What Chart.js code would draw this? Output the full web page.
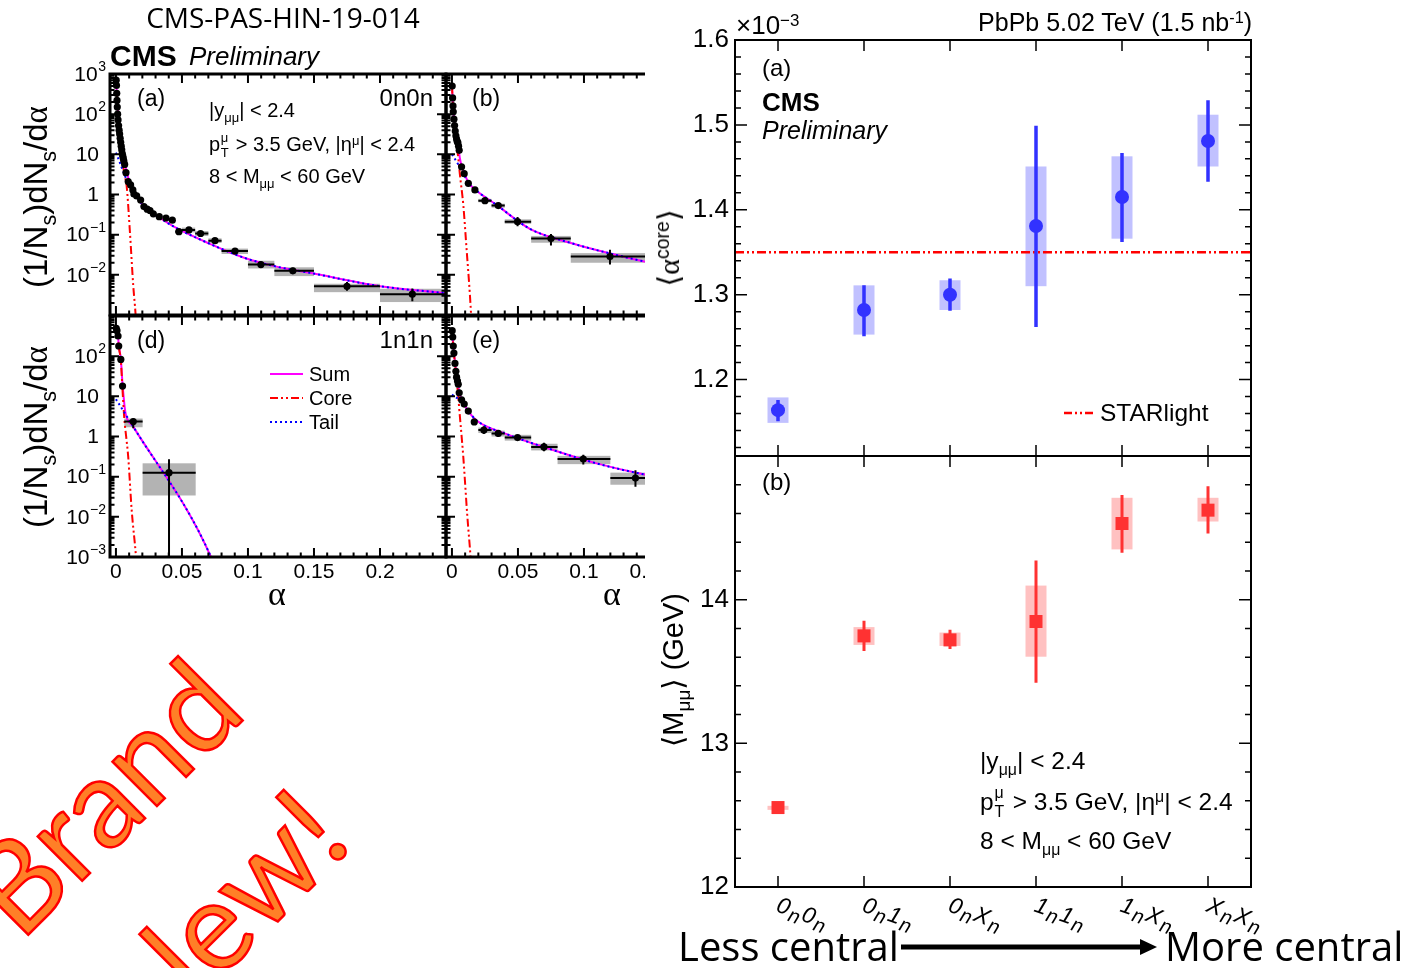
<!DOCTYPE html>
<html>
<head>
<meta charset="utf-8">
<title>CMS-PAS-HIN-19-014</title>
<script src="https://cdn.jsdelivr.net/npm/chart.js@4.4.1/dist/chart.umd.min.js"></script>
<style>
  body { margin:0; width:1422px; height:968px; overflow:hidden; position:relative; background:#fff;
         font-family:"Liberation Sans", Arial, sans-serif; color:#000; }
  canvas { position:absolute; }
  .t { position:absolute; white-space:nowrap; line-height:1; }
  .r { transform:translateX(-100%); }
  .c { transform:translateX(-50%); }
  .rot { transform:translate(-50%,-50%) rotate(-90deg); }
  sup { font-size:.65em; vertical-align:.5em; line-height:0; }
  sub { font-size:.65em; vertical-align:-.4em; line-height:0; }
  .ss { display:inline-block; position:relative; width:.5em; height:1px; }
  .ss i { position:absolute; left:.05em; font-style:normal; font-size:.65em; line-height:1; }
  .ss .u { bottom:.54em; }
  .ss .d { bottom:-.62em; }
  .sym { font-family:"Liberation Serif", serif; }
  .ang { font-family:"DejaVu Sans", sans-serif; }
  #clipB { position:absolute; left:0; top:0; width:645px; height:620px; overflow:hidden; }
  #brand { position:absolute; left:160px; top:854px; transform:translate(-50%,-50%) rotate(-45deg);
           font-family:Lato, "Open Sans", sans-serif; font-size:124px; line-height:167px; text-align:center;
           color:#ff7f27; -webkit-text-stroke:2.5px #ff0000; white-space:nowrap; }
</style>
</head>
<body>

<canvas id="cA" width="460" height="300" style="left:0;top:40px"></canvas>
<canvas id="cD" width="460" height="290" style="left:0;top:300px"></canvas>
<div id="clipB">
  <canvas id="cB" width="360" height="300" style="left:436px;top:40px"></canvas>
  <canvas id="cE" width="360" height="290" style="left:436px;top:300px"></canvas>
</div>
<canvas id="cRT" width="650" height="470" style="left:640px;top:0"></canvas>
<canvas id="cRB" width="650" height="520" style="left:640px;top:440px"></canvas>

<!-- left block texts -->
<div class="t c" style="left:283px;top:3px;font-family:'Open Sans',sans-serif;font-size:28px">CMS-PAS-HIN-19-014</div>
<div class="t" style="left:110px;top:41px;font-size:30px;font-weight:bold">CMS</div>
<div class="t" style="left:189px;top:43px;font-size:26px;font-style:italic">Preliminary</div>

<div class="t" style="left:137px;top:87px;font-size:23px">(a)</div>
<div class="t r" style="left:433px;top:86px;font-size:24px">0n0n</div>
<div class="t" style="left:209px;top:100px;font-size:20px">|y<sub>μμ</sub>| &lt; 2.4</div>
<div class="t" style="left:209px;top:134px;font-size:20px">p<span class="ss"><i class="u">μ</i><i class="d">T</i></span> &gt; 3.5 GeV, |η<sup>μ</sup>| &lt; 2.4</div>
<div class="t" style="left:209px;top:166px;font-size:20px">8 &lt; M<sub>μμ</sub> &lt; 60 GeV</div>
<div class="t" style="left:472px;top:87px;font-size:23px">(b)</div>
<div class="t" style="left:137px;top:329px;font-size:23px">(d)</div>
<div class="t r" style="left:433px;top:328px;font-size:24px">1n1n</div>
<div class="t" style="left:472px;top:329px;font-size:23px">(e)</div>

<svg style="position:absolute;left:268px;top:364px" width="40" height="70">
  <line x1="2" y1="10" x2="35" y2="10" stroke="#ff00ff" stroke-width="2"/>
  <line x1="2" y1="34" x2="35" y2="34" stroke="#ff0000" stroke-width="2" stroke-dasharray="8 3 2 3 2 3"/>
  <line x1="2" y1="58" x2="35" y2="58" stroke="#0000ff" stroke-width="2" stroke-dasharray="2 3"/>
</svg>
<div class="t" style="left:309px;top:364px;font-size:20px">Sum</div>
<div class="t" style="left:309px;top:388px;font-size:20px">Core</div>
<div class="t" style="left:309px;top:412px;font-size:20px">Tail</div>

<div class="t rot" style="left:36px;top:197px;font-size:33px">(1/N<sub>s</sub>)dN<sub>s</sub>/d<span class="sym">α</span></div>
<div class="t rot" style="left:36px;top:437px;font-size:33px">(1/N<sub>s</sub>)dN<sub>s</sub>/d<span class="sym">α</span></div>
<div class="t c sym" style="left:277px;top:577px;font-size:34px">α</div>
<div class="t c sym" style="left:612px;top:577px;font-size:34px">α</div>

<!-- right block texts -->
<div class="t" style="left:736px;top:12px;font-size:26px">×10<sup>−3</sup></div>
<div class="t r" style="left:1252px;top:10px;font-size:25px">PbPb 5.02 TeV (1.5 nb<sup>-1</sup>)</div>
<div class="t" style="left:762px;top:56px;font-size:24px">(a)</div>
<div class="t" style="left:762px;top:89px;font-size:26px;font-weight:bold">CMS</div>
<div class="t" style="left:762px;top:118px;font-size:25px;font-style:italic">Preliminary</div>
<svg style="position:absolute;left:1062px;top:405px" width="34" height="16">
  <line x1="2" y1="8" x2="31" y2="8" stroke="#ff0000" stroke-width="2.5" stroke-dasharray="8 3 2 3 2 3"/>
</svg>
<div class="t" style="left:1100px;top:401px;font-size:24.5px">STARlight</div>
<div class="t" style="left:762px;top:470px;font-size:24px">(b)</div>
<div class="t" style="left:980px;top:749px;font-size:24.5px">|y<sub>μμ</sub>| &lt; 2.4</div>
<div class="t" style="left:980px;top:790px;font-size:24.5px">p<span class="ss"><i class="u">μ</i><i class="d">T</i></span> &gt; 3.5 GeV, |η<sup>μ</sup>| &lt; 2.4</div>
<div class="t" style="left:980px;top:829px;font-size:24.5px">8 &lt; M<sub>μμ</sub> &lt; 60 GeV</div>
<div class="t rot" style="left:669px;top:248px;font-size:30px"><span class="ang">⟨</span><span class="sym">α</span><sup>core</sup><span class="ang">⟩</span></div>
<div class="t rot" style="left:673px;top:670px;font-size:29px"><span class="ang">⟨</span>M<sub>μμ</sub><span class="ang">⟩</span> (GeV)</div>

<div class="t" style="left:678px;top:926px;font-family:'Open Sans',sans-serif;font-size:40px">Less central</div>
<div class="t" style="left:1165px;top:926px;font-family:'Open Sans',sans-serif;font-size:40px">More central</div>
<svg style="position:absolute;left:895px;top:935px" width="270" height="26">
  <line x1="6" y1="12" x2="248" y2="12" stroke="#000" stroke-width="5"/>
  <polygon points="245,4 262,12 245,20" fill="#000"/>
</svg>

<div id="brand">Brand<br>New!</div>

<script>
// ---------------- data: right panels (per neutron class) ----------------
const classes     = ['0n0n', '0n1n', '0nXn', '1n1n', '1nXn', 'XnXn'];
const alphaMean   = [1.164, 1.282, 1.300, 1.381, 1.415, 1.481];   // x 1e-3
const alphaStatLo = [1.151, 1.251, 1.281, 1.262, 1.362, 1.433];
const alphaStatHi = [1.176, 1.311, 1.319, 1.499, 1.467, 1.529];
const alphaSysLo  = [1.149, 1.253, 1.282, 1.310, 1.366, 1.451];
const alphaSysHi  = [1.179, 1.311, 1.317, 1.451, 1.463, 1.512];
const starlightAlpha = 1.35;
const massMean    = [12.553, 13.748, 13.720, 13.848, 14.530, 14.623]; // GeV
const massStatLo  = [12.545, 13.643, 13.657, 13.421, 14.327, 14.460];
const massStatHi  = [12.561, 13.853, 13.790, 14.273, 14.728, 14.789];
const massSysLo   = [12.537, 13.685, 13.678, 13.603, 14.350, 14.544];
const massSysHi   = [12.565, 13.809, 13.771, 14.098, 14.709, 14.709];

// ---------------- data: alpha spectra ----------------
// dense points [alpha, dN/dalpha]
// binned rows [alpha, value, binLo, binHi, statLo, statHi, sysLo, sysHi]
// fit curves [alpha, value]
const aDense = [[0.0002,700],[0.0004,520],[0.0006,330],[0.0008,220],[0.001,150],[0.0013,100],[0.0016,72],[0.002,52],
  [0.0024,40],[0.0028,32],[0.0032,25],[0.0036,20],[0.004,16],[0.0044,13],[0.0048,10.5],[0.0052,9],[0.0056,7.8],
  [0.006,6.8],[0.0066,5.6],[0.0076,3.5],[0.0093,2.1],[0.0111,1.73],[0.0128,1.3],[0.0136,1.03],[0.0157,0.92],
  [0.0187,0.73],[0.0212,0.5],[0.0237,0.43],[0.0258,0.4],[0.0283,0.33],[0.0328,0.28],[0.0379,0.26],[0.0427,0.23]];
const aBinned = [
  [0.0477,0.119,0.045,0.05,0.108,0.131,0.106,0.133],
  [0.0553,0.131,0.05,0.06,0.120,0.143,0.114,0.150],
  [0.0641,0.107,0.06,0.07,0.098,0.117,0.093,0.123],
  [0.075,0.071,0.07,0.08,0.064,0.079,0.062,0.081],
  [0.0902,0.039,0.08,0.10,0.035,0.043,0.033,0.045],
  [0.1098,0.018,0.10,0.12,0.015,0.0215,0.0144,0.0224],
  [0.134,0.0126,0.12,0.15,0.0105,0.015,0.0093,0.0154],
  [0.175,0.0052,0.15,0.20,0.0040,0.0066,0.0037,0.0060],
  [0.2245,0.0033,0.20,0.25,0.0022,0.0046,0.0021,0.0045]];
const aSum  = [[0,770],[0.001,210],[0.002,70],[0.003,34],[0.004,19],[0.005,11],[0.006,7.2],[0.007,5],[0.0081,3.9],
  [0.0093,2.6],[0.0106,1.9],[0.012,1.42],[0.0157,0.92],[0.0207,0.52],[0.0333,0.26],[0.046,0.145],[0.0712,0.059],
  [0.0965,0.027],[0.1217,0.016],[0.147,0.0112],[0.2,0.0052],[0.25,0.0035]];
const aCore = [[0,760],[0.001,200],[0.002,62],[0.003,27],[0.004,13],[0.005,6.5],[0.006,3.8],[0.007,2.6],[0.0081,1.66],
  [0.0106,0.115],[0.0131,0.0054],[0.0149,0.001],[0.016,0.0002]];
const aTail = [[0,11],[0.003,6.2],[0.006,3.4],[0.009,2.0],[0.012,1.4],[0.0157,0.92],[0.0207,0.52],[0.0333,0.26],
  [0.046,0.145],[0.0712,0.059],[0.0965,0.027],[0.1217,0.016],[0.147,0.0112],[0.2,0.0052],[0.25,0.0035]];

const bDense = [[0.0002,500],[0.0005,254],[0.0008,160],[0.001,115],[0.0015,75],[0.002,52],[0.0025,38],[0.003,29],
  [0.0035,24],[0.004,21],[0.0045,19.5],[0.005,16],[0.0055,12.6],[0.0073,4.9],[0.0093,3.3],[0.0124,1.9],[0.0174,1.3]];
const bBinned = [
  [0.025,0.70,0.02,0.03,0.62,0.80,0.64,0.78],
  [0.0351,0.53,0.03,0.04,0.46,0.60,0.47,0.59],
  [0.0497,0.21,0.04,0.06,0.162,0.277,0.186,0.241],
  [0.075,0.080,0.06,0.09,0.054,0.104,0.063,0.093],
  [0.1197,0.0285,0.09,0.15,0.018,0.042,0.020,0.0347]];
const bSum  = [[0,520],[0.001,130],[0.002,56],[0.003,32],[0.004,20],[0.005,14],[0.006,8],[0.0073,5.2],[0.0093,3.4],
  [0.0124,2.0],[0.0162,1.45],[0.0338,0.55],[0.059,0.14],[0.0894,0.063],[0.146,0.0213],[0.16,0.017]];
const bCore = [[0,510],[0.001,120],[0.002,48],[0.003,24],[0.004,13],[0.005,7],[0.006,3.2],[0.0086,0.55],
  [0.0111,0.043],[0.0136,0.0032],[0.0145,0.001],[0.016,0.0001]];
const bTail = [[0,10],[0.005,5.5],[0.0093,3.0],[0.0124,2.0],[0.0162,1.45],[0.0338,0.55],[0.059,0.14],[0.0894,0.063],
  [0.146,0.0213],[0.16,0.017]];

const dDense = [[0.00025,490],[0.0008,430],[0.0016,318],[0.0021,179],[0.0037,83],[0.005,18]];
const dBinned = [
  [0.0131,2.35,0.0063,0.0202,1.6,2.8,1.7,2.8],
  [0.0402,0.126,0.0202,0.0604,0.00001,0.27,0.034,0.215]];
const dSum  = [[0,560],[0.001,400],[0.0016,318],[0.0021,190],[0.0037,85],[0.005,20],[0.0058,10],[0.0066,5.4],
  [0.0076,3.4],[0.0131,1.76],[0.072,0.001],[0.08,0.00018]];
const dCore = [[0,550],[0.001,390],[0.0016,310],[0.0021,180],[0.0037,78],[0.005,14],[0.0064,2.6],[0.0076,1.1],
  [0.0093,0.31],[0.0119,0.015],[0.0152,0.001],[0.016,0.0004]];
const dTail = [[0,8.5],[0.0131,1.76],[0.072,0.001],[0.08,0.00018]];

const eDense = [[0.0002,430],[0.0006,300],[0.001,178],[0.0015,120],[0.0023,66],[0.003,42],[0.0035,30],[0.0042,24],
  [0.0048,20],[0.0055,12.2],[0.0073,8.2],[0.0093,6.4],[0.0124,4.3],[0.0169,2.3]];
const eBinned = [
  [0.0242,1.45,0.02,0.03,1.15,1.8,1.22,1.67],
  [0.0351,1.19,0.03,0.04,0.97,1.46,1.0,1.4],
  [0.0497,0.94,0.04,0.06,0.82,1.08,0.79,1.10],
  [0.0697,0.55,0.06,0.08,0.43,0.70,0.45,0.66],
  [0.0995,0.275,0.08,0.12,0.20,0.35,0.205,0.33],
  [0.139,0.092,0.12,0.16,0.056,0.144,0.063,0.126]];
const eSum  = [[0,450],[0.001,190],[0.002,88],[0.003,46],[0.004,27],[0.005,17],[0.0055,13],[0.0073,8.4],[0.0093,6.3],
  [0.0124,4.3],[0.0187,2.5],[0.0414,1.15],[0.0717,0.52],[0.1096,0.214],[0.146,0.113],[0.16,0.095]];
const eCore = [[0,440],[0.001,180],[0.002,80],[0.003,38],[0.004,18],[0.005,8],[0.0055,5],[0.0086,0.31],
  [0.0116,0.011],[0.0141,0.001],[0.016,0.0001]];
const eTail = [[0,11],[0.0055,8.2],[0.0093,6.1],[0.0124,4.3],[0.0187,2.5],[0.0414,1.15],[0.0717,0.52],[0.1096,0.214],
  [0.146,0.113],[0.16,0.095]];

// ---------------- axes ----------------
const alphaMin = -0.0045, alphaMax = 0.25;
const alphaTicks = [0, 0.05, 0.1, 0.15, 0.2];
const alphaTickLabels = ['0', '0.05', '0.1', '0.15', '0.2'];
const decades = [-3, -2, -1, 0, 1, 2, 3];
const classMin = -0.5, classMax = 5.5;
const alphaAxis = [1.11, 1.6], alphaAxisTicks = [1.2, 1.3, 1.4, 1.5, 1.6];
const massAxis = [12, 15], massAxisTicks = [12, 13, 14];

const FONT = '"Liberation Sans", Arial, sans-serif';

function xy(arr) { return arr.map(p => ({ x: p[0], y: p[1] })); }

function clipTo(ctx, a) {
  ctx.beginPath();
  ctx.rect(a.left, a.top, a.right - a.left, a.bottom - a.top);
  ctx.clip();
}

function frameAndTicks(chart, t) {
  const { ctx, chartArea: a, scales: { x, y } } = chart;
  ctx.save();
  ctx.strokeStyle = '#000';
  ctx.lineWidth = t.tickWidth;
  ctx.beginPath();
  const xt = (v, len) => {
    const p = x.getPixelForValue(v);
    if (p < a.left - 0.5 || p > a.right + 0.5) return;
    ctx.moveTo(p, a.bottom); ctx.lineTo(p, a.bottom - len);
    ctx.moveTo(p, a.top); ctx.lineTo(p, a.top + len);
  };
  const yt = (v, len) => {
    const p = y.getPixelForValue(v);
    if (p < a.top - 0.5 || p > a.bottom + 0.5) return;
    ctx.moveTo(a.left, p); ctx.lineTo(a.left + len, p);
    ctx.moveTo(a.right, p); ctx.lineTo(a.right - len, p);
  };
  t.xMajor.forEach(v => xt(v, t.majLen));
  t.xMinor.forEach(v => xt(v, t.minLen));
  t.yMajor.forEach(v => yt(v, t.yMajLen || t.majLen));
  t.yMinor.forEach(v => yt(v, t.yMinLen || t.minLen));
  ctx.stroke();
  ctx.lineWidth = t.frameWidth;
  ctx.strokeRect(a.left, a.top, a.right - a.left, a.bottom - a.top);
  ctx.restore();
}

// tick positions for the alpha spectra
const logMajor = decades.map(e => Math.pow(10, e));
const logMinor = [];
for (let e = -3; e < 3; e++) for (let k = 2; k < 10; k++) logMinor.push(k * Math.pow(10, e));
const alphaMajor = [0, 0.05, 0.1, 0.15, 0.2, 0.25];
const alphaMinor = [];
for (let i = 1; i < 25; i++) if (i % 5) alphaMinor.push(i / 100);

function spectrumPanel(id, pad, dense, binned, sum, core, tail, yExps, xLabels) {
  const deco = {
    id: 'deco',
    beforeDatasetsDraw(chart) {
      const { ctx, chartArea: a, scales: { x, y } } = chart;
      ctx.save(); clipTo(ctx, a);
      ctx.fillStyle = '#b3b3b3';
      binned.forEach(r => {
        const x0 = x.getPixelForValue(r[2]), x1 = x.getPixelForValue(r[3]);
        const y0 = y.getPixelForValue(r[7]), y1 = y.getPixelForValue(r[6]);
        ctx.fillRect(x0, y0, x1 - x0, y1 - y0);
      });
      ctx.restore();
    },
    beforeDatasetDraw(chart, args) {
      if (args.index !== 0) return;
      const { ctx, chartArea: a, scales: { x, y } } = chart;
      ctx.save(); clipTo(ctx, a);
      ctx.strokeStyle = '#000';
      ctx.lineWidth = 2;
      ctx.beginPath();
      binned.forEach(r => {
        const px = x.getPixelForValue(r[0]), py = y.getPixelForValue(r[1]);
        ctx.moveTo(x.getPixelForValue(r[2]), py); ctx.lineTo(x.getPixelForValue(r[3]), py);
        ctx.moveTo(px, y.getPixelForValue(r[4])); ctx.lineTo(px, y.getPixelForValue(r[5]));
      });
      ctx.stroke();
      ctx.restore();
    },
    afterDraw(chart) {
      const { ctx, chartArea: a, scales: { x, y } } = chart;
      frameAndTicks(chart, { xMajor: alphaMajor, xMinor: alphaMinor, yMajor: logMajor, yMinor: logMinor,
        majLen: 9, minLen: 4.5, tickWidth: 2, frameWidth: 3 });
      ctx.save();
      ctx.fillStyle = '#000';
      ctx.textBaseline = 'middle';
      ctx.textAlign = 'right';
      yExps.forEach(e => {
        const py = y.getPixelForValue(Math.pow(10, e)) + 1;
        if (e === 0 || e === 1) {
          ctx.font = '21px ' + FONT;
          ctx.fillText(e === 0 ? '1' : '10', a.left - 11, py);
          return;
        }
        const sup = String(e).replace('-', '\u2212');
        ctx.font = '14px ' + FONT;
        const sw = ctx.measureText(sup).width;
        ctx.fillText(sup, a.left - 4, py - 8);
        ctx.font = '21px ' + FONT;
        ctx.fillText('10', a.left - 4 - sw - 0.5, py);
      });
      ctx.font = '21px ' + FONT;
      ctx.textAlign = 'center';
      xLabels.forEach(i => ctx.fillText(alphaTickLabels[i], x.getPixelForValue(alphaTicks[i]), a.bottom + 15));
      ctx.restore();
    }
  };
  const curve = (arr, color, dash, order) => ({
    data: xy(arr), showLine: true, borderColor: color, borderWidth: 2, borderDash: dash,
    pointRadius: 0, cubicInterpolationMode: 'monotone', fill: false, order: order
  });
  return new Chart(document.getElementById(id), {
    type: 'scatter',
    data: {
      datasets: [
        { data: xy(dense).concat(xy(binned)), pointRadius: 3.6, backgroundColor: '#000', borderWidth: 0, order: 0 },
        curve(tail, '#0000ff', [2, 3], 1),
        curve(core, '#ff0000', [8, 3, 2, 3, 2, 3], 2),
        curve(sum, '#ff00ff', [], 3)
      ]
    },
    options: {
      animation: false, responsive: false, devicePixelRatio: 1,
      layout: { padding: pad },
      plugins: { legend: { display: false }, tooltip: { enabled: false } },
      scales: {
        x: { type: 'linear', min: alphaMin, max: alphaMax, display: false },
        y: { type: 'logarithmic', min: 1e-3, max: 1e3, display: false }
      }
    },
    plugins: [deco]
  });
}

spectrumPanel('cA', { left: 110, top: 34, right: 14, bottom: 25 }, aDense, aBinned, aSum, aCore, aTail, [3, 2, 1, 0, -1, -2], []);
spectrumPanel('cB', { left: 10, top: 34, right: 14, bottom: 25 }, bDense, bBinned, bSum, bCore, bTail, [], []);
spectrumPanel('cD', { left: 110, top: 16, right: 14, bottom: 33 }, dDense, dBinned, dSum, dCore, dTail, [2, 1, 0, -1, -2, -3], [0, 1, 2, 3, 4]);
spectrumPanel('cE', { left: 10, top: 16, right: 14, bottom: 33 }, eDense, eBinned, eSum, eCore, eTail, [], [0, 1, 2, 3, 4]);

// ---------------- right panels ----------------
function minorSteps(lo, hi, step, majors) {
  const out = [];
  for (let v = lo; v <= hi + 1e-9; v += step) {
    const r = Math.round(v * 1000) / 1000;
    if (!majors.some(m => Math.abs(m - r) < 1e-6)) out.push(r);
  }
  return out;
}

function drawClassLabel(ctx, text, px, py) {
  ctx.save();
  ctx.translate(px, py);
  ctx.rotate(20 * Math.PI / 180);
  ctx.textAlign = 'left';
  ctx.textBaseline = 'alphabetic';
  let cx = 0;
  for (const ch of text) {
    const sub = ch === 'n';
    ctx.font = 'italic ' + (sub ? 20 : 23) + 'px ' + FONT;
    ctx.fillText(ch, cx, sub ? 5 : 0);
    cx += ctx.measureText(ch).width + 1.5;
  }
  ctx.restore();
}

function classPanel(id, pad, axis, majors, minorStep, mean, statLo, statHi, sysLo, sysHi, look, extra, withLabels) {
  const allMajor = majors.concat([axis[1]]);
  const minors = minorSteps(Math.ceil(axis[0] / minorStep) * minorStep, axis[1], minorStep, allMajor);
  const deco = {
    id: 'deco',
    beforeDatasetsDraw(chart) {
      const { ctx, chartArea: a, scales: { x, y } } = chart;
      ctx.save(); clipTo(ctx, a);
      ctx.fillStyle = look.box;
      mean.forEach((m, i) => {
        const px = x.getPixelForValue(i);
        const y0 = y.getPixelForValue(sysHi[i]), y1 = y.getPixelForValue(sysLo[i]);
        ctx.fillRect(px - 10.5, y0, 21, y1 - y0);
      });
      ctx.restore();
    },
    beforeDatasetDraw(chart, args) {
      if (args.index !== 0) return;
      const { ctx, chartArea: a, scales: { x, y } } = chart;
      ctx.save(); clipTo(ctx, a);
      ctx.strokeStyle = look.color;
      ctx.lineWidth = look.errWidth;
      ctx.beginPath();
      mean.forEach((m, i) => {
        const px = x.getPixelForValue(i);
        ctx.moveTo(px, y.getPixelForValue(statLo[i]));
        ctx.lineTo(px, y.getPixelForValue(statHi[i]));
      });
      ctx.stroke();
      ctx.restore();
    },
    afterDraw(chart) {
      const { ctx, chartArea: a, scales: { x, y } } = chart;
      frameAndTicks(chart, { xMajor: classes.map((c, i) => i), xMinor: [], yMajor: allMajor, yMinor: minors,
        majLen: 11, minLen: 6, yMajLen: 12, yMinLen: 6, tickWidth: 1.5, frameWidth: 2 });
      ctx.save();
      ctx.fillStyle = '#000';
      ctx.font = '26px ' + FONT;
      ctx.textAlign = 'right';
      ctx.textBaseline = 'middle';
      majors.forEach(v => ctx.fillText(look.fmt(v), a.left - 6, y.getPixelForValue(v)));
      if (withLabels) classes.forEach((c, i) => drawClassLabel(ctx, c, x.getPixelForValue(i) - 3, a.bottom + 24));
      ctx.restore();
    }
  };
  const datasets = [{
    data: mean.map((m, i) => ({ x: i, y: m })), pointStyle: look.shape, pointRadius: look.radius,
    backgroundColor: look.color, borderWidth: 0, order: 0
  }].concat(extra);
  return new Chart(document.getElementById(id), {
    type: 'scatter',
    data: { datasets: datasets },
    options: {
      animation: false, responsive: false, devicePixelRatio: 1,
      layout: { padding: pad },
      plugins: { legend: { display: false }, tooltip: { enabled: false } },
      scales: {
        x: { type: 'linear', min: classMin, max: classMax, display: false },
        y: { type: 'linear', min: axis[0], max: axis[1], display: false }
      }
    },
    plugins: [deco]
  });
}

classPanel('cRT', { left: 95, top: 40, right: 39, bottom: 14 }, alphaAxis, alphaAxisTicks.slice(0, 4), 0.02,
  alphaMean, alphaStatLo, alphaStatHi, alphaSysLo, alphaSysHi,
  { color: '#3232ff', box: 'rgba(50,50,255,0.3)', shape: 'circle', radius: 7, errWidth: 3.5, fmt: v => v.toFixed(1) },
  [{ data: [{ x: classMin, y: starlightAlpha }, { x: classMax, y: starlightAlpha }], showLine: true,
     borderColor: '#ff0000', borderWidth: 2.5, borderDash: [9, 3, 2, 3, 2, 3], pointRadius: 0, order: 1 }],
  false);

classPanel('cRB', { left: 95, top: 16, right: 39, bottom: 73 }, massAxis, massAxisTicks, 0.2,
  massMean, massStatLo, massStatHi, massSysLo, massSysHi,
  { color: '#ff3232', box: 'rgba(255,50,50,0.3)', shape: 'rect', radius: 9.2, errWidth: 3, fmt: v => String(v) },
  [], true);
</script>
<script>
// the 1.6 label sits at the top edge of the upper right panel
(function () {
  const c = document.getElementById('cRT').getContext('2d');
  c.save();
  c.fillStyle = '#000';
  c.font = '26px ' + FONT;
  c.textAlign = 'right';
  c.textBaseline = 'middle';
  const ch = Chart.getChart('cRT');
  c.fillText(alphaAxisTicks[4].toFixed(1), ch.chartArea.left - 6, ch.scales.y.getPixelForValue(alphaAxisTicks[4]));
  c.restore();
})();
</script>
</body>
</html>
